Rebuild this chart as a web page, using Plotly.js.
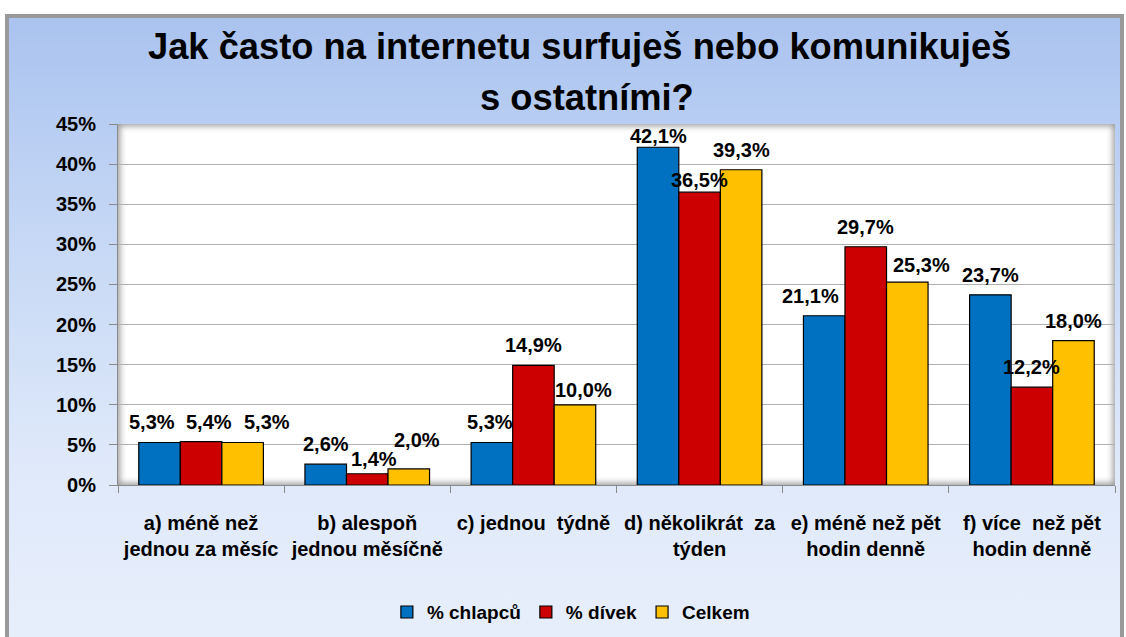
<!DOCTYPE html>
<html><head><meta charset="utf-8">
<script src="https://cdn.plot.ly/plotly-3.0.1.min.js"></script>
<style>
html,body{margin:0;padding:0;background:#fff;}
#frame{position:absolute;left:5px;top:14px;width:1111px;height:640px;border:4px solid #9a9a9a;border-bottom:none;
background:linear-gradient(to bottom,#aac3ef 0%,#c6d8f5 35%,#dfe9fa 70%,#e8effb 100%);}
#plotbg{position:absolute;left:118px;top:124px;width:997px;height:361px;background:#fff;
box-shadow:inset 0 0 6px 2px #9a9a9a;}
#chart{position:absolute;left:0;top:0;width:1126px;height:637px;}
</style></head>
<body>
<div id="frame"></div>
<div id="plotbg"></div>
<div id="chart"></div>
<script>
const categories = ["a) méně než<br>jednou za měsíc","b) alespoň<br>jednou měsíčně","c) jednou  týdně","d) několikrát  za<br>týden","e) méně než pět<br>hodin denně","f) více  než pět<br>hodin denně"];
const chlapcu = [5.3, 2.6, 5.3, 42.1, 21.1, 23.7];
const divek = [5.4, 1.4, 14.9, 36.5, 29.7, 12.2];
const celkem = [5.3, 2.0, 10.0, 39.3, 25.3, 18.0];
const seriesNames = ["% chlapců","% dívek","Celkem"];
const seriesColors = ['#0070c0','#cc0000','#ffc000'];
const yTicks = [0,5,10,15,20,25,30,35,40,45];

// label placement nudges (pixels), imitating the original's label layout
const labelDX = [[-8,0,-2,0,-14,0],[8,7,0,0,0,0],[24,8,9,0,14,0]];
const labelDY = [[0,0,0,-9,0,0],[0,-5,0,-8,0,0],[0,9,-5,0,-3,0]];

const FONT = "'Liberation Sans', Arial, sans-serif";
const fmt = v => v.toFixed(1).replace('.', ',') + '%';
const series = [chlapcu, divek, celkem];
const data = series.map((vals, i) => ({type:'bar', name:seriesNames[i], x:categories, y:vals,
  marker:{color:seriesColors[i], line:{color:'#000', width:1.2}}, hoverinfo:'skip'}));

const plotW = 997, nCat = categories.length, bargap = 0.25;
const barW = plotW / nCat * (1 - bargap) / series.length;
const labelAnn = [];
series.forEach((vals, i) => vals.forEach((v, j) => {
  labelAnn.push({x:categories[j], y:v, xref:'x', yref:'y', text:fmt(v), showarrow:false,
    xshift:(i - 1) * barW + labelDX[i][j], yshift:20 + labelDY[i][j], yanchor:'middle',
    font:{family:FONT, size:20, weight:'bold', color:'#000'}});
}));

const layout = {
  width:1126, height:637,
  margin:{l:118, r:11, t:124, b:152},
  paper_bgcolor:'rgba(0,0,0,0)', plot_bgcolor:'rgba(0,0,0,0)',
  barmode:'group', bargap:bargap, bargroupgap:0,
  font:{family:FONT, color:'#000'},
  showlegend:true,
  legend:{orientation:'h', x:0.507, xref:'container', xanchor:'center', y:0.039, yref:'container', yanchor:'middle',
    font:{family:FONT, size:19, weight:'bold'}, bgcolor:'rgba(0,0,0,0)', itemwidth:30, traceorder:'normal'},
  xaxis:{type:'category', ticks:'outside', tickson:'boundaries', ticklen:7, tickcolor:'#8a8a8a',
    showline:true, linecolor:'#8a8a8a', linewidth:1,
    tickfont:{family:FONT, size:20, weight:'bold'}, ticklabelstandoff:20, showgrid:false},
  yaxis:{range:[0,45], tickvals:yTicks, ticktext:yTicks.map(v=>v+'%'), ticks:'outside', ticklen:8, tickcolor:'#8a8a8a',
    showline:true, linecolor:'#8a8a8a', gridcolor:'#b0b0b0', gridwidth:1, zeroline:false,
    tickfont:{family:FONT, size:20, weight:'bold'}, ticklabelstandoff:9},
  annotations:[
    {text:'Jak často na internetu surfuješ nebo komunikuješ', xref:'paper', x:0.463, yref:'paper', y:(485-46)/361, yanchor:'middle', showarrow:false,
     font:{family:FONT, size:36.3, weight:'bold'}},
    {text:'s ostatními?', xref:'paper', x:0.47, yref:'paper', y:(485-97)/361, yanchor:'middle', showarrow:false,
     font:{family:FONT, size:36.3, weight:'bold'}}
  ].concat(labelAnn)
};
Plotly.newPlot('chart', data, layout, {displayModeBar:false, staticPlot:true});
</script>
</body></html>
